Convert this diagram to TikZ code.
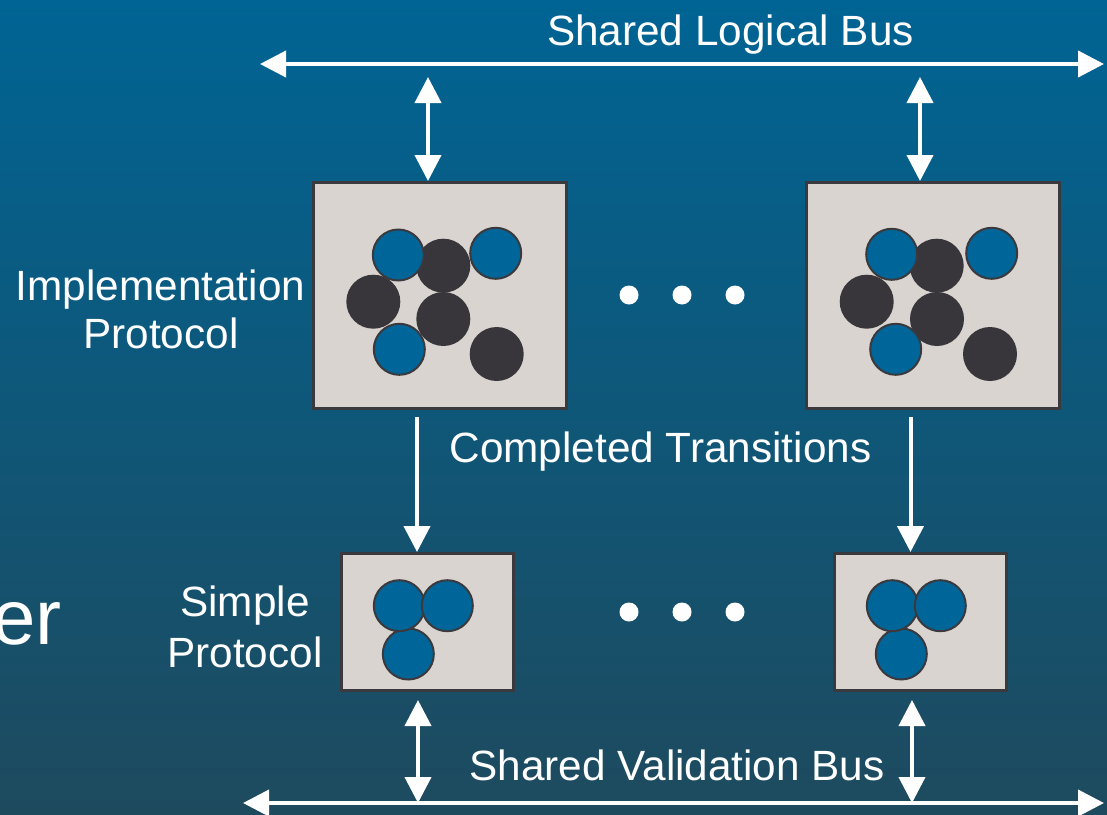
\documentclass[tikz,border=0pt]{standalone}
\usepackage{fontspec}
\setmainfont{Liberation Sans}
\usetikzlibrary{arrows.meta}
\definecolor{bgtop}{HTML}{006494}
\definecolor{bgbot}{HTML}{1E4A5E}
\definecolor{panel}{HTML}{DAD4D1}
\definecolor{rim}{HTML}{3A393D}
\definecolor{token}{HTML}{38363B}
\definecolor{cell}{HTML}{006599}
\begin{document}
\begin{tikzpicture}[x=1pt,y=-1pt,
  lbl/.style={text=white, font=\fontsize{42.3}{48}\selectfont, inner sep=0pt, anchor=base},
  panelbox/.style={draw=rim, fill=panel, line width=3pt, inner sep=0pt},
  bluedot/.style={circle, draw=rim, line width=2pt, fill=cell, minimum size=51pt, inner sep=0pt},
  darkdot/.style={circle, fill=token, minimum size=54pt, inner sep=0pt},
  whitedot/.style={circle, fill=white, minimum size=19pt, inner sep=0pt},
  bus/.style={draw=white, line width=4pt, {Triangle[length=26pt,width=26pt]}-{Triangle[length=26pt,width=26pt]}},
  flow/.style={draw=white, line width=4pt, -{Triangle[length=26pt,width=26pt]}},
]
% background
\fill[top color=bgtop, bottom color=bgbot] (0,0) rectangle (1107,814);
\useasboundingbox (0,0) rectangle (1107,814);

% stray title fragment
\node[text=white, font=\fontsize{78}{90}\selectfont, inner sep=0pt, anchor=base west] (frag) at (-8,644) {er};

% implementation panels
\node[panelbox, minimum width=253pt, minimum height=226pt] (box1) at (440,295.5) {};
\node[panelbox, minimum width=253pt, minimum height=226pt] (box2) at (933,295.5) {};
% simple panels
\node[panelbox, minimum width=172pt, minimum height=137pt] (box3) at (427.5,622) {};
\node[panelbox, minimum width=172pt, minimum height=137pt] (box4) at (920.5,622) {};

% tokens in the first implementation panel
\node[darkdot] (a1) at (443.3,265.7) {};
\node[darkdot] (a2) at (373.3,301.7) {};
\node[darkdot] (a3) at (443.3,319) {};
\node[darkdot] (a4) at (496.7,354) {};
\node[bluedot] (a5) at (398.3,255) {};
\node[bluedot] (a6) at (495.7,253.3) {};
\node[bluedot] (a7) at (399.3,349.3) {};
% tokens in the second implementation panel
\node[darkdot] (b1) at (936.7,265.7) {};
\node[darkdot] (b2) at (866.7,301.7) {};
\node[darkdot] (b3) at (937,319) {};
\node[darkdot] (b4) at (990,354) {};
\node[bluedot] (b5) at (891.7,254.3) {};
\node[bluedot] (b6) at (991.7,253.3) {};
\node[bluedot] (b7) at (895.7,349.3) {};
% tokens in the simple panels
\node[bluedot] (c3) at (408.3,654) {};
\node[bluedot] (c1) at (399.3,605.7) {};
\node[bluedot] (c2) at (447.3,605.7) {};
\node[bluedot] (d3) at (901.3,654) {};
\node[bluedot] (d1) at (892.3,605.7) {};
\node[bluedot] (d2) at (940.3,605.7) {};

% ellipses between panels
\node[whitedot] (e1) at (629,295) {};
\node[whitedot] (e2) at (682,295) {};
\node[whitedot] (e3) at (735,295) {};
\node[whitedot] (f1) at (629,612) {};
\node[whitedot] (f2) at (682,612) {};
\node[whitedot] (f3) at (735,612) {};

% logical bus
\coordinate (tl) at (260,64);
\coordinate (tr) at (1104,64);
\draw[bus] (tl) -- (tr);
\coordinate (u1) at (428,77);
\coordinate (u2) at (920,77);
\draw[bus] (u1) -- (u1 |- box1.north);
\draw[bus] (u2) -- (u2 |- box2.north);

% completed transitions
\coordinate (s1) at (417,417);
\coordinate (s2) at (910.5,417);
\draw[flow] (s1) -- (s1 |- box3.north);
\draw[flow] (s2) -- (s2 |- box4.north);

% validation bus
\coordinate (bl) at (243,803);
\coordinate (br) at (1104,803);
\draw[bus] (bl) -- (br);
\coordinate (v1) at (418,700);
\coordinate (v2) at (912,700);
\draw[bus] (v1) -- (v1 |- bl);
\draw[bus] (v2) -- (v2 |- bl);

% labels
\node[lbl] (t1) at (730.5,45) {Shared Logical Bus};
\node[lbl] (t2) at (160.5,300) {Implementation};
\node[lbl] (t3) at (161,348) {Protocol};
\node[lbl] (t4) at (660.5,462) {Completed Transitions};
\node[lbl] (t5) at (245,616) {Simple};
\node[lbl] (t6) at (245,667) {Protocol};
\node[lbl] (t7) at (677,780) {Shared Validation Bus};
\end{tikzpicture}
\end{document}
